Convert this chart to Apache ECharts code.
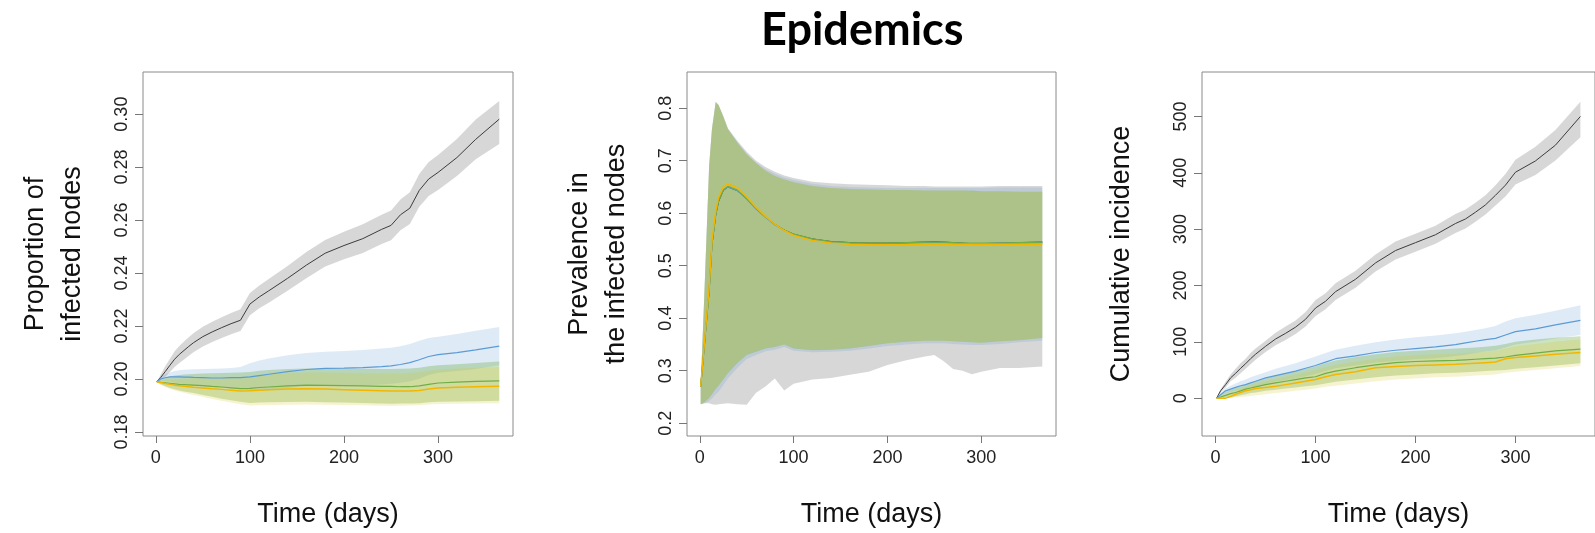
<!DOCTYPE html>
<html>
<head>
<meta charset="utf-8">
<script src="https://cdn.jsdelivr.net/npm/echarts@6/dist/echarts.min.js"></script>
<style>
  html, body { margin: 0; padding: 0; background: #fff; }
  #main { width: 1595px; height: 533px; }
</style>
</head>
<body>
<div id="main"></div>
<script>
// days sampled for panels 1 and 3
const days = [1, 5, 10, 15, 20, 25, 30, 35, 40, 50, 60, 70, 80, 90, 100, 110, 120, 140, 160, 180, 200, 220, 240, 250, 260, 270, 280, 290, 300, 320, 340, 365];
// panel 2 needs more points near the early peak
const days2 = [1, 5, 10, 13, 17, 20, 25, 30, 40, 50, 60, 70, 80, 90, 100, 120, 140, 160, 180, 200, 220, 240, 250, 260, 270, 280, 290, 300, 320, 340, 365];

const xTicks = [0, 100, 200, 300];

// ---- panel 1 : proportion of infected nodes
const p1Ticks = [0.18, 0.20, 0.22, 0.24, 0.26, 0.28, 0.30];
const p1BlackMean = [0.1990, 0.2005, 0.2028, 0.2052, 0.2075, 0.2093, 0.2108, 0.2123, 0.2137, 0.2160, 0.2178, 0.2194, 0.2209, 0.2222, 0.2283, 0.2310, 0.2333, 0.2380, 0.2430, 0.2475, 0.2504, 0.2530, 0.2565, 0.2580, 0.2620, 0.2645, 0.2712, 0.2755, 0.2780, 0.2836, 0.2905, 0.2981];
const p1BlackHi = [0.1990, 0.2015, 0.2048, 0.2077, 0.2105, 0.2125, 0.2142, 0.2158, 0.2173, 0.2197, 0.2216, 0.2233, 0.2249, 0.2263, 0.2325, 0.2353, 0.2378, 0.2427, 0.2480, 0.2525, 0.2556, 0.2584, 0.2620, 0.2636, 0.2678, 0.2705, 0.2774, 0.2819, 0.2846, 0.2906, 0.2980, 0.3050];
const p1BlackLo = [0.1990, 0.1995, 0.2008, 0.2027, 0.2045, 0.2061, 0.2074, 0.2088, 0.2101, 0.2123, 0.2140, 0.2155, 0.2169, 0.2181, 0.2241, 0.2267, 0.2288, 0.2333, 0.2380, 0.2425, 0.2452, 0.2476, 0.2510, 0.2524, 0.2562, 0.2585, 0.2650, 0.2691, 0.2714, 0.2766, 0.2830, 0.2887];
const p1BlueMean = [0.1990, 0.2000, 0.2005, 0.2008, 0.2008, 0.2008, 0.2007, 0.2007, 0.2006, 0.2005, 0.2004, 0.2004, 0.2005, 0.2005, 0.2008, 0.2013, 0.2018, 0.2028, 0.2036, 0.2040, 0.2041, 0.2043, 0.2047, 0.2050, 0.2055, 0.2062, 0.2073, 0.2085, 0.2092, 0.2100, 0.2110, 0.2124];
const p1BlueHi = [0.1990, 0.2010, 0.2018, 0.2025, 0.2030, 0.2033, 0.2035, 0.2036, 0.2037, 0.2038, 0.2039, 0.2040, 0.2042, 0.2045, 0.2060, 0.2070, 0.2078, 0.2090, 0.2098, 0.2103, 0.2106, 0.2110, 0.2115, 0.2118, 0.2124, 0.2132, 0.2145, 0.2155, 0.2160, 0.2170, 0.2182, 0.2196];
const p1BlueLo = [0.1990, 0.1990, 0.1992, 0.1991, 0.1986, 0.1983, 0.1980, 0.1978, 0.1975, 0.1972, 0.1969, 0.1968, 0.1967, 0.1965, 0.1956, 0.1956, 0.1958, 0.1966, 0.1974, 0.1977, 0.1976, 0.1976, 0.1979, 0.1982, 0.1986, 0.1992, 0.2001, 0.2015, 0.2024, 0.2030, 0.2038, 0.2052];
const p1GreenMean = [0.1990, 0.1988, 0.1986, 0.1984, 0.1982, 0.1980, 0.1979, 0.1978, 0.1977, 0.1975, 0.1972, 0.1970, 0.1967, 0.1964, 0.1965, 0.1968, 0.1970, 0.1974, 0.1977, 0.1976, 0.1975, 0.1974, 0.1972, 0.1972, 0.1971, 0.1971, 0.1974, 0.1980, 0.1985, 0.1988, 0.1991, 0.1993];
const p1GreenHi = [0.1990, 0.1998, 0.2005, 0.2010, 0.2013, 0.2015, 0.2017, 0.2018, 0.2019, 0.2021, 0.2022, 0.2023, 0.2024, 0.2025, 0.2027, 0.2031, 0.2034, 0.2038, 0.2040, 0.2041, 0.2040, 0.2039, 0.2038, 0.2038, 0.2039, 0.2040, 0.2043, 0.2048, 0.2052, 0.2056, 0.2061, 0.2066];
const p1GreenLo = [0.1990, 0.1980, 0.1973, 0.1966, 0.1961, 0.1957, 0.1953, 0.1950, 0.1947, 0.1940, 0.1933, 0.1926, 0.1920, 0.1914, 0.1910, 0.1911, 0.1912, 0.1913, 0.1914, 0.1912, 0.1911, 0.1910, 0.1908, 0.1907, 0.1908, 0.1908, 0.1909, 0.1912, 0.1914, 0.1915, 0.1916, 0.1918];
const p1YellowMean = [0.1990, 0.1987, 0.1983, 0.1980, 0.1977, 0.1975, 0.1973, 0.1971, 0.1969, 0.1966, 0.1963, 0.1961, 0.1958, 0.1955, 0.1956, 0.1958, 0.1960, 0.1962, 0.1963, 0.1962, 0.1960, 0.1958, 0.1956, 0.1955, 0.1955, 0.1955, 0.1957, 0.1962, 0.1966, 0.1969, 0.1971, 0.1973];
const p1YellowHi = [0.1990, 0.1993, 0.1996, 0.1998, 0.1999, 0.2000, 0.2001, 0.2002, 0.2003, 0.2004, 0.2005, 0.2006, 0.2007, 0.2008, 0.2010, 0.2014, 0.2018, 0.2022, 0.2025, 0.2025, 0.2024, 0.2022, 0.2020, 0.2020, 0.2021, 0.2023, 0.2026, 0.2031, 0.2036, 0.2040, 0.2043, 0.2045];
const p1YellowLo = [0.1990, 0.1978, 0.1970, 0.1963, 0.1957, 0.1952, 0.1948, 0.1944, 0.1940, 0.1933, 0.1925, 0.1918, 0.1911, 0.1905, 0.1900, 0.1901, 0.1902, 0.1903, 0.1904, 0.1903, 0.1902, 0.1901, 0.1899, 0.1898, 0.1899, 0.1900, 0.1901, 0.1904, 0.1906, 0.1907, 0.1908, 0.1909];

// ---- panel 2 : prevalence in the infected nodes
const p2Ticks = [0.2, 0.3, 0.4, 0.5, 0.6, 0.7, 0.8];
const p2BlackMean = [0.270, 0.350, 0.452, 0.540, 0.596, 0.622, 0.643, 0.650, 0.643, 0.628, 0.609, 0.593, 0.579, 0.568, 0.560, 0.551, 0.546, 0.544, 0.543, 0.543, 0.544, 0.545, 0.5455, 0.545, 0.544, 0.543, 0.542, 0.542, 0.543, 0.544, 0.545];
const p2BlackHi = [0.270, 0.450, 0.690, 0.760, 0.812, 0.806, 0.785, 0.762, 0.738, 0.717, 0.700, 0.688, 0.679, 0.672, 0.667, 0.660, 0.657, 0.655, 0.654, 0.653, 0.652, 0.652, 0.651, 0.651, 0.651, 0.651, 0.651, 0.651, 0.652, 0.652, 0.652];
const p2BlackLo = [0.236, 0.238, 0.238, 0.236, 0.235, 0.236, 0.237, 0.238, 0.236, 0.235, 0.258, 0.270, 0.285, 0.262, 0.275, 0.283, 0.286, 0.292, 0.298, 0.311, 0.320, 0.327, 0.330, 0.318, 0.303, 0.300, 0.293, 0.298, 0.305, 0.305, 0.308];
const p2BlueMean = [0.270, 0.351, 0.454, 0.542, 0.598, 0.624, 0.644, 0.650, 0.643, 0.627, 0.608, 0.592, 0.578, 0.567, 0.559, 0.550, 0.545, 0.543, 0.542, 0.542, 0.543, 0.544, 0.544, 0.544, 0.543, 0.542, 0.542, 0.542, 0.543, 0.543, 0.544];
const p2BlueHi = [0.270, 0.450, 0.690, 0.760, 0.812, 0.806, 0.785, 0.761, 0.736, 0.714, 0.697, 0.684, 0.675, 0.668, 0.663, 0.656, 0.652, 0.650, 0.649, 0.648, 0.648, 0.648, 0.648, 0.648, 0.648, 0.648, 0.648, 0.648, 0.649, 0.649, 0.649];
const p2BlueLo = [0.236, 0.238, 0.242, 0.247, 0.255, 0.260, 0.272, 0.285, 0.305, 0.322, 0.330, 0.337, 0.340, 0.345, 0.338, 0.335, 0.336, 0.338, 0.342, 0.347, 0.350, 0.352, 0.352, 0.352, 0.351, 0.350, 0.349, 0.349, 0.351, 0.354, 0.357];
const p2GreenMean = [0.270, 0.350, 0.453, 0.541, 0.597, 0.623, 0.644, 0.651, 0.644, 0.628, 0.609, 0.593, 0.579, 0.568, 0.560, 0.551, 0.546, 0.544, 0.543, 0.543, 0.544, 0.545, 0.545, 0.545, 0.544, 0.543, 0.543, 0.543, 0.543, 0.544, 0.545];
const p2GreenHi = [0.270, 0.450, 0.690, 0.760, 0.812, 0.806, 0.784, 0.760, 0.734, 0.712, 0.695, 0.681, 0.671, 0.664, 0.659, 0.652, 0.648, 0.646, 0.645, 0.644, 0.644, 0.643, 0.643, 0.643, 0.643, 0.643, 0.643, 0.642, 0.642, 0.641, 0.641];
const p2GreenLo = [0.236, 0.240, 0.248, 0.255, 0.265, 0.271, 0.283, 0.295, 0.314, 0.330, 0.336, 0.342, 0.345, 0.350, 0.342, 0.339, 0.340, 0.342, 0.347, 0.352, 0.355, 0.357, 0.357, 0.357, 0.356, 0.355, 0.354, 0.353, 0.356, 0.358, 0.362];
const p2YellowMean = [0.270, 0.355, 0.460, 0.548, 0.604, 0.630, 0.650, 0.656, 0.648, 0.631, 0.611, 0.594, 0.579, 0.567, 0.558, 0.548, 0.543, 0.541, 0.540, 0.540, 0.540, 0.541, 0.541, 0.541, 0.541, 0.541, 0.541, 0.541, 0.541, 0.541, 0.541];
const p2YellowHi = [0.270, 0.450, 0.690, 0.760, 0.812, 0.806, 0.784, 0.760, 0.734, 0.712, 0.695, 0.681, 0.671, 0.664, 0.659, 0.652, 0.648, 0.646, 0.645, 0.644, 0.644, 0.643, 0.643, 0.643, 0.643, 0.643, 0.642, 0.642, 0.642, 0.641, 0.641];
const p2YellowLo = [0.236, 0.240, 0.248, 0.256, 0.266, 0.272, 0.284, 0.296, 0.315, 0.331, 0.337, 0.343, 0.346, 0.350, 0.343, 0.340, 0.341, 0.343, 0.348, 0.352, 0.355, 0.357, 0.357, 0.357, 0.356, 0.355, 0.354, 0.353, 0.356, 0.358, 0.362];

// ---- panel 3 : cumulative incidence
const p3Ticks = [0, 100, 200, 300, 400, 500];
const p3BlackMean = [0, 13, 24, 36, 44, 53, 61, 70, 78, 92, 105, 115, 126, 140, 160, 172, 189, 211, 240, 262, 276, 290, 310, 318, 330, 343, 360, 378, 401, 421, 449, 500];
const p3BlackHi = [0, 16, 29, 42, 52, 62, 70, 80, 88, 102, 116, 127, 138, 153, 174, 186, 204, 226, 255, 278, 292, 306, 327, 335, 347, 360, 378, 398, 423, 446, 476, 526];
const p3BlackLo = [0, 10, 19, 30, 36, 44, 52, 60, 68, 82, 94, 103, 114, 127, 146, 158, 174, 196, 225, 246, 260, 274, 293, 301, 313, 326, 342, 358, 379, 396, 422, 463];
const p3BlueMean = [0, 6, 13, 16, 19, 22, 24, 27, 30, 36, 40, 44, 48, 53, 58, 64, 70, 75, 81, 85, 88, 91, 95, 98, 101, 104, 106, 112, 118, 123, 130, 138];
const p3BlueHi = [0, 9, 17, 22, 26, 30, 33, 37, 40, 46, 52, 57, 62, 68, 74, 80, 86, 93, 99, 104, 108, 111, 115, 118, 121, 124, 128, 136, 142, 148, 155, 165];
const p3BlueLo = [0, 3, 8, 11, 13, 15, 17, 19, 21, 25, 29, 32, 35, 39, 43, 48, 53, 58, 63, 66, 69, 71, 75, 77, 80, 83, 85, 90, 95, 100, 106, 112];
const p3GreenMean = [0, 2, 5, 8, 10, 13, 16, 18, 20, 24, 27, 30, 33, 36, 38, 44, 48, 54, 59, 63, 65, 66, 67, 68, 69, 70, 71, 73, 76, 80, 84, 87];
const p3GreenHi = [0, 6, 11, 15, 18, 21, 24, 27, 30, 35, 40, 44, 48, 52, 56, 62, 67, 73, 78, 82, 84, 86, 88, 89, 90, 91, 93, 96, 100, 104, 107, 110];
const p3GreenLo = [0, 0, 1, 2, 3, 5, 7, 9, 10, 13, 15, 17, 19, 21, 23, 26, 29, 33, 37, 40, 42, 44, 45, 46, 47, 48, 49, 50, 52, 55, 58, 62];
const p3YellowMean = [0, 0, 0, 3, 7, 10, 13, 15, 17, 19, 21, 24, 27, 30, 33, 38, 42, 47, 54, 56, 58, 59, 60, 61, 62, 63, 64, 70, 72, 75, 78, 81];
const p3YellowHi = [0, 3, 6, 10, 14, 17, 20, 23, 26, 30, 34, 38, 42, 46, 50, 55, 59, 65, 70, 74, 76, 78, 79, 80, 81, 82, 84, 88, 92, 96, 100, 104];
const p3YellowLo = [0, 0, 0, 0, 1, 2, 3, 4, 5, 7, 9, 11, 13, 15, 17, 20, 22, 26, 30, 33, 35, 37, 38, 39, 40, 41, 42, 45, 47, 50, 53, 57];

const lineColors = { black: '#3c3c3c', blue: '#5b9bd5', green: '#70ad47', yellow: '#f2b600' };
const bandColors = {
  black: 'rgba(150,150,150,0.38)',
  blue: 'rgba(91,155,213,0.2)',
  green: 'rgba(112,173,71,0.35)',
  yellow: 'rgba(214,200,40,0.22)'
};

const FONT = 'Liberation Sans, Arial, sans-serif';

function pairs(x, y) {
  return x.map((d, i) => [d, y[i]]);
}

// shaded interval between lo and hi, drawn as one polygon through the axis scales
function band(gi, x, lo, hi, color) {
  return {
    type: 'custom', xAxisIndex: gi, yAxisIndex: gi, silent: true, z: 2,
    data: x.map((d, i) => [d, lo[i], hi[i]]),
    encode: { x: 0, y: [1, 2] },
    renderItem: function (params, api) {
      if (params.dataIndex !== 0) return { type: 'group', children: [] };
      const pts = [];
      for (let i = 0; i < x.length; i++) pts.push(api.coord([x[i], hi[i]]));
      for (let i = x.length - 1; i >= 0; i--) pts.push(api.coord([x[i], lo[i]]));
      return { type: 'polygon', shape: { points: pts }, style: { fill: color } };
    }
  };
}

function meanLine(gi, x, y, color, w) {
  return {
    type: 'line', xAxisIndex: gi, yAxisIndex: gi, data: pairs(x, y),
    symbol: 'none', silent: true, z: 5,
    lineStyle: { color: color, width: w }
  };
}

function panelSeries(gi, x, d) {
  return [
    band(gi, x, d.blackLo, d.blackHi, bandColors.black),
    band(gi, x, d.blueLo, d.blueHi, bandColors.blue),
    band(gi, x, d.greenLo, d.greenHi, bandColors.green),
    band(gi, x, d.yellowLo, d.yellowHi, bandColors.yellow),
    meanLine(gi, x, d.blackMean, lineColors.black, 1),
    meanLine(gi, x, d.blueMean, lineColors.blue, 1.2),
    meanLine(gi, x, d.greenMean, lineColors.green, 1.2),
    meanLine(gi, x, d.yellowMean, lineColors.yellow, 1.5)
  ];
}

const grids = [
  { left: 143, top: 72, width: 370, height: 368 },
  { left: 687, top: 72, width: 369, height: 368 },
  { left: 1202, top: 72, width: 398, height: 368 }
].map(g => Object.assign(g, { show: true, borderColor: '#8a8a8a', borderWidth: 1 }));

function xAxis(gi) {
  return {
    type: 'value', gridIndex: gi, min: -13.6, max: 379.6,
    name: 'Time (days)', nameLocation: 'middle', nameGap: 65,
    nameTextStyle: { fontSize: 27, color: '#111', fontFamily: FONT },
    axisLine: { show: false, onZero: false },
    splitLine: { show: false },
    axisTick: { show: true, length: 7, customValues: xTicks, lineStyle: { color: '#777' } },
    axisLabel: { customValues: xTicks, fontSize: 18, color: '#222', margin: 13, fontFamily: FONT }
  };
}

function yAxis(gi, min, max, ticks, dec, name, gap) {
  return {
    type: 'value', gridIndex: gi, min: min, max: max,
    name: name, nameLocation: 'middle', nameGap: gap, nameRotate: 90,
    nameTextStyle: { fontSize: 27, lineHeight: 37, color: '#111', fontFamily: FONT },
    axisLine: { show: false, onZero: false },
    splitLine: { show: false },
    axisTick: { show: true, length: 8, customValues: ticks, lineStyle: { color: '#777' } },
    axisLabel: {
      customValues: ticks, rotate: 90, fontSize: 18, color: '#222', margin: 12, fontFamily: FONT,
      formatter: v => v.toFixed(dec)
    }
  };
}

const p1 = {
  blackMean: p1BlackMean, blackHi: p1BlackHi, blackLo: p1BlackLo,
  blueMean: p1BlueMean, blueHi: p1BlueHi, blueLo: p1BlueLo,
  greenMean: p1GreenMean, greenHi: p1GreenHi, greenLo: p1GreenLo,
  yellowMean: p1YellowMean, yellowHi: p1YellowHi, yellowLo: p1YellowLo
};
const p2 = {
  blackMean: p2BlackMean, blackHi: p2BlackHi, blackLo: p2BlackLo,
  blueMean: p2BlueMean, blueHi: p2BlueHi, blueLo: p2BlueLo,
  greenMean: p2GreenMean, greenHi: p2GreenHi, greenLo: p2GreenLo,
  yellowMean: p2YellowMean, yellowHi: p2YellowHi, yellowLo: p2YellowLo
};
const p3 = {
  blackMean: p3BlackMean, blackHi: p3BlackHi, blackLo: p3BlackLo,
  blueMean: p3BlueMean, blueHi: p3BlueHi, blueLo: p3BlueLo,
  greenMean: p3GreenMean, greenHi: p3GreenHi, greenLo: p3GreenLo,
  yellowMean: p3YellowMean, yellowHi: p3YellowHi, yellowLo: p3YellowLo
};

const chart = echarts.init(document.getElementById('main'), null, { renderer: 'canvas' });
chart.setOption({
  animation: false,
  backgroundColor: '#fff',
  title: {
    text: 'Epidemics', left: 761, top: 8, padding: 0,
    textStyle: { fontFamily: 'Lato, Open Sans, sans-serif', fontWeight: 'bold', fontSize: 45, color: '#000' }
  },
  grid: grids,
  xAxis: [xAxis(0), xAxis(1), xAxis(2)],
  yAxis: [
    yAxis(0, 0.1785, 0.3159, p1Ticks, 2, 'Proportion of\ninfected nodes', 52),
    yAxis(1, 0.1755, 0.869, p2Ticks, 1, 'Prevalence in\nthe infected nodes', 52),
    yAxis(2, -67.2, 578.9, p3Ticks, 0, 'Cumulative incidence', 62)
  ],
  series: [].concat(
    panelSeries(0, days, p1),
    panelSeries(1, days2, p2),
    panelSeries(2, days, p3)
  )
});
</script>
</body>
</html>
